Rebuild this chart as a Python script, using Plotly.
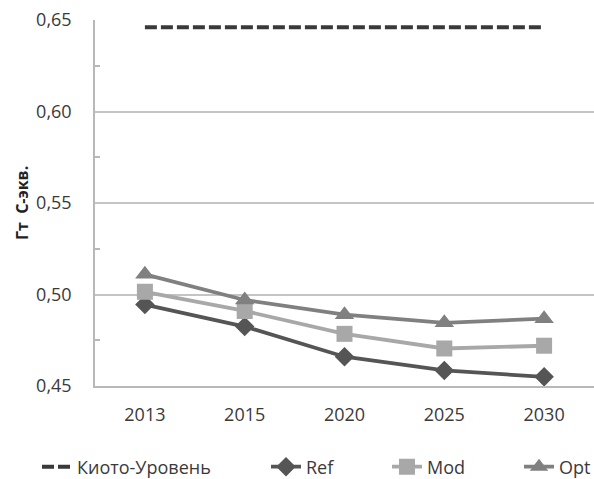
import plotly.graph_objects as go

years = ["2013", "2015", "2020", "2025", "2030"]
kyoto = [0.646, 0.646, 0.646, 0.646, 0.646]
ref = [0.4945, 0.4825, 0.466, 0.4585, 0.455]
mod = [0.5015, 0.491, 0.4785, 0.4705, 0.472]
opt = [0.511, 0.497, 0.489, 0.4845, 0.4868]
yticks = [0.45, 0.50, 0.55, 0.60, 0.65]
yticktext = ["0,45", "0,50", "0,55", "0,60", "0,65"]

FONT = "Open Sans"
TXT = "#3a3a3a"
L, R, T, B = 95, 0, 20, 93
W, H = 594, 479
pw = W - L - R
ph = H - T - B

def px_x(p):
    return (p - L) / pw

def px_y(p):
    return (H - B - p) / ph

fig = go.Figure()
fig.add_trace(go.Scatter(x=years, y=kyoto, name="Киото-Уровень", mode="lines",
                         line=dict(color="#3a3a3a", width=4, dash="12px,4px"),
                         legend="legend"))
fig.add_trace(go.Scatter(x=years, y=ref, name="Ref", mode="lines+markers",
                         line=dict(color="#555555", width=3.8),
                         marker=dict(symbol="diamond", size=15, color="#555555"),
                         legend="legend2"))
fig.add_trace(go.Scatter(x=years, y=mod, name="Mod", mode="lines+markers",
                         line=dict(color="#a8a8a8", width=3.8),
                         marker=dict(symbol="square", size=16, color="#a8a8a8"),
                         legend="legend3"))
fig.add_trace(go.Scatter(x=years, y=opt, name="Opt", mode="lines+markers",
                         line=dict(color="#808080", width=3.8),
                         marker=dict(symbol="triangle-up", size=17, color="#808080"),
                         legend="legend4"))

def leg(xpx):
    return dict(orientation="h", x=px_x(xpx), xanchor="left", y=px_y(467),
                yanchor="middle", font=dict(family=FONT, size=18, color=TXT),
                bgcolor="rgba(0,0,0,0)", borderwidth=0)

fig.update_layout(
    width=W, height=H,
    margin=dict(l=L, r=R, t=T, b=B, autoexpand=False),
    paper_bgcolor="white", plot_bgcolor="white",
    font=dict(family=FONT, size=18, color=TXT),
    showlegend=True,
    legend=leg(37), legend2=leg(266), legend3=leg(387), legend4=leg(519),
    xaxis=dict(type="category", range=[-0.5, 4.5], showgrid=False, automargin=False,
               showline=True, linecolor="#b8b8b8", linewidth=1.5,
               ticks="", tickfont=dict(size=18, color=TXT), ticklabelstandoff=12),
    yaxis=dict(range=[0.45, 0.65], tickvals=yticks, ticktext=yticktext, automargin=False,
               showgrid=True, gridcolor="#c4c4c4", gridwidth=1.5,
               showline=True, linecolor="#b8b8b8", linewidth=1.5,
               ticks="", ticklabelstandoff=18, tickfont=dict(size=18, color=TXT),
               minor=dict(tickvals=[0.475, 0.525, 0.575, 0.625], ticks="inside",
                          ticklen=5, tickcolor="#b8b8b8", tickwidth=1.5, showgrid=False),
               zeroline=False),
    annotations=[dict(text="<b>Гт  С-экв.</b>", textangle=-90, xref="paper", yref="paper",
                      x=px_x(22), y=px_y(203), xanchor="center", yanchor="middle",
                      showarrow=False, font=dict(family=FONT, size=16, color="#222222"))],
)
fig.write_html("out.html", config={"displayModeBar": False},
               post_script="document.body.style.margin='0';document.body.style.padding='0';")
